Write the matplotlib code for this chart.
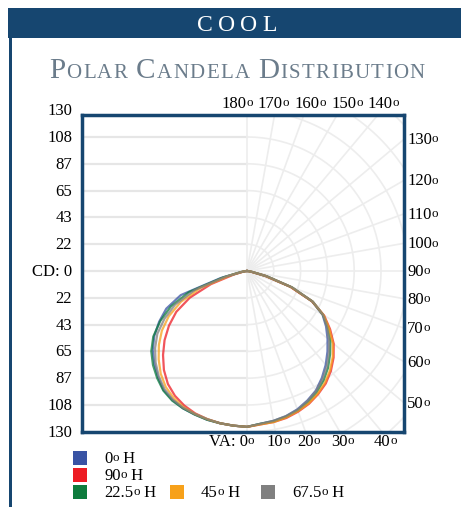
import numpy as np
import matplotlib.pyplot as plt
from matplotlib.patches import Rectangle

# vertical angles (deg, 0 = straight down)
va = [0, 5, 10, 15, 20, 25, 30, 35, 40, 45, 50, 55, 60, 65, 70, 75, 80, 85, 90]

# candela, right half of each plane
right_0 = [124.5, 124, 123, 121.5, 119, 115.5, 111.5, 105.5, 99, 92, 85, 78, 70.5, 58, 38, 16, 4, 1, 0]
right_90 = [125, 124.5, 124, 123, 121, 118.5, 115, 111, 105.5, 99, 91.5, 82, 72, 58, 37, 15, 3, 1, 0]
right_225 = [124.5, 124, 123.5, 122, 120, 117, 113, 108, 102, 95, 88, 80, 71, 58.5, 38.5, 16.5, 4, 1, 0]
right_45 = [125, 124.5, 124, 122.5, 120.5, 118, 114.5, 110, 104.5, 98, 90.5, 81, 71.5, 58.5, 38, 16, 4, 1, 0]
right_675 = [124.5, 124, 123, 121.5, 119.5, 116, 112, 106.5, 100.5, 93.5, 86.5, 79, 71, 59, 39, 17, 4.5, 1, 0]

# candela, left half of each plane
left_0 = [126, 125.5, 125, 124.5, 123.5, 122.5, 120.5, 117.5, 112, 106, 99.5, 91.5, 82, 72, 57, 22, 5, 1, 0]
left_90 = [126, 125.5, 125, 124, 122.5, 120, 116.5, 111.5, 104.5, 96, 87, 77, 66, 51, 31, 11, 3, 0.5, 0]
left_225 = [126, 125.5, 125, 124.5, 123.5, 122.5, 121, 118, 113, 107.5, 101, 92.5, 81, 68, 50, 20, 5, 1, 0]
left_45 = [126, 125.5, 125, 124, 123, 121.5, 118.5, 114.5, 108.5, 101, 93, 84, 73, 59, 40, 15, 4, 1, 0]
left_675 = [126, 125.5, 125, 124, 123, 122, 120, 116.5, 111, 104.5, 97, 88.5, 77, 64, 45, 18, 4, 1, 0]

# legend names: number, then "º H"
series_nums = ["0", "90", "22.5", "45", "67.5"]
series_right = [right_0, right_90, right_225, right_45, right_675]
series_left = [left_0, left_90, left_225, left_45, left_675]
colors = ["#3953a4", "#ed1c24", "#0d7c3d", "#f7a11a", "#808080"]

cd_labels = ["130", "108", "87", "65", "43", "22", "CD: 0", "22", "43", "65", "87", "108", "130"]
right_angles = [130, 120, 110, 100, 90, 80, 70, 60, 50]
bottom_angles = [10, 20, 30, 40]
top_angles = [180, 170, 160, 150, 140]

W, H = 461, 507
SERIF = "Liberation Serif"
navy = "#164670"
FS = 12

fig = plt.figure(figsize=(W / 100, H / 100), dpi=100)

def fx(px):
    return px / W

def fy(py):
    return 1 - py / H

# header band and left border
fig.add_artist(Rectangle((fx(8), fy(38)), fx(461) - fx(8), fy(8) - fy(38),
                         transform=fig.transFigure, color=navy, lw=0))
fig.add_artist(Rectangle((fx(9), 0), fx(3), fy(38),
                         transform=fig.transFigure, color=navy, lw=0))

renderer = fig.canvas.get_renderer()

def run_text(parts, x, ybase, ha="left", color="black", track=0.0):
    # parts: list of (string, fontsize, raise_px), laid out left to right
    texts, widths = [], []
    for s, size, rise in parts:
        t = fig.text(0, fy(ybase - rise), s, fontsize=size, family=SERIF, color=color,
                     va="baseline", ha="left")
        texts.append(t)
        widths.append(t.get_window_extent(renderer).width if s.strip() else size * 0.45)
    total = sum(widths) + track * (len(parts) - 1)
    if ha == "center":
        x -= total / 2
    elif ha == "right":
        x -= total
    for t, w in zip(texts, widths):
        t.set_x(fx(x))
        x += w + track

def deg(num, tail=""):
    parts = [(num, FS, 0), ("o", FS * 0.78, 1.8)]
    if tail:
        parts.append((tail, FS, 0))
    return parts

run_text([(c, 17, 0) for c in "COOL"], 237, 31, "center", "white", track=5)

title = []
for i, word in enumerate(["Polar", "Candela", "Distribution"]):
    if i:
        title.append((" ", 14, 0))
    title.append((word[0], 21, 0))
    title += [(c, 15, 0) for c in word[1:].upper()]
run_text(title, 237, 78, "center", "#6b7c8b", track=1.3)

# main plot box
x0, x1, y0, y1 = 82, 404, 115, 432
cx, cy = 247, 271
k = 1.237  # px per candela
ax = fig.add_axes([fx(x0), fy(y1), fx(x1) - fx(x0), fy(y0) - fy(y1)])
xmin, xmax = (x0 - cx) / k, (x1 - cx) / k
ymin, ymax = (cy - y1) / k, (cy - y0) / k
ax.set_xlim(xmin, xmax)
ax.set_ylim(ymin, ymax)
ax.set_xticks([])
ax.set_yticks([])
for sp in ax.spines.values():
    sp.set_color(navy)
    sp.set_linewidth(2.5)
    sp.set_zorder(5)

step = 130 / 6
# left half: horizontal lines
for i in range(-5, 6):
    ax.plot([xmin, 0], [i * step, i * step], color="#e6e6e6", lw=1.6, zorder=1)
# right half: polar grid
for a in range(0, 181, 10):
    t = np.radians(a)
    ax.plot([0, 300 * np.sin(t)], [0, -300 * np.cos(t)], color="#ededed", lw=1.2, zorder=1)
th = np.radians(np.linspace(0, 180, 200))
for i in range(1, 10):
    ax.plot(i * step * np.sin(th), -i * step * np.cos(th), color="#ededed", lw=1.2, zorder=1)

# candela curves
vr = np.radians(va)
for r_right, r_left, c in zip(series_right, series_left, colors):
    rr = np.array(r_right)
    rl = np.array(r_left)
    xs = np.concatenate([-rl[::-1] * np.sin(vr[::-1]), rr[1:] * np.sin(vr[1:])])
    ys = np.concatenate([-rl[::-1] * np.cos(vr[::-1]), -rr[1:] * np.cos(vr[1:])])
    ax.plot(xs, ys, color=c, lw=1.6, alpha=0.75, zorder=3, solid_joinstyle="round")

# left candela labels
for i, lab in enumerate(cd_labels):
    yv = cy - (6 - i) * step * k
    run_text([(lab, FS, 0)], 72, yv + 5, "right")

# right angle labels
for a in right_angles:
    yv = cy + (x1 - cx) / np.tan(np.radians(a))
    run_text(deg(str(a)), 407, yv + 5)

# bottom angle labels
run_text(deg("VA: 0"), 254, 446, "right")
for a in bottom_angles:
    xv = cx + (y1 - cy) * np.tan(np.radians(a)) + 3
    run_text(deg(str(a)), xv, 446, "center")

# top angle labels
for i, a in enumerate(top_angles):
    run_text(deg(str(a)), 237 + 36.6 * i, 108, "center")

# legend
legend_pos = [(73, 458), (73, 475), (73, 492), (170, 492), (261, 492)]
for (lx, ly), num, c in zip(legend_pos, series_nums, colors):
    fig.add_artist(Rectangle((fx(lx), fy(ly + 7)), fx(14), fy(0) - fy(14),
                             transform=fig.transFigure, color=c, lw=0))
    run_text(deg(num, " H"), lx + 31, ly + 5)

fig.savefig("out.png", dpi=100)
